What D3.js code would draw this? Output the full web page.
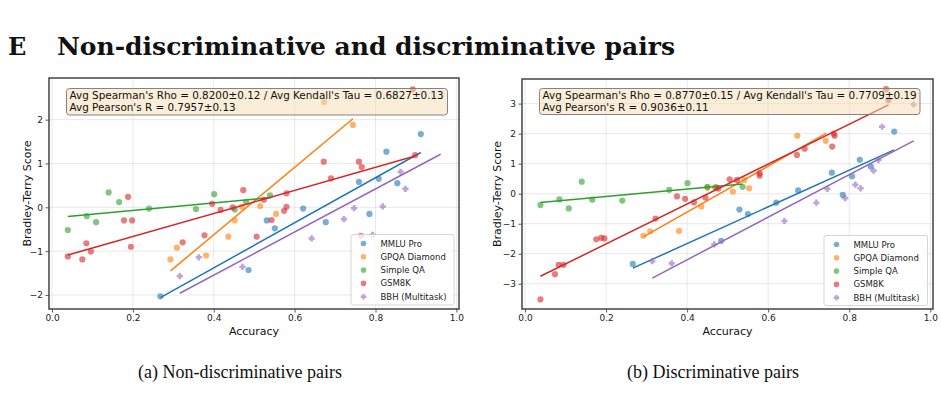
<!DOCTYPE html>
<html>
<head>
<meta charset="utf-8">
<script src="https://cdn.jsdelivr.net/npm/d3@7"></script>
<style>
  body { margin: 0; background: #fff; }
  svg { display: block; }
</style>
</head>
<body>
<div id="chart"></div>
<script>
// series names, shared by both panels
var seriesNames = ["MMLU Pro", "GPQA Diamond", "Simple QA", "GSM8K", "BBH (Multitask)"];

// (a) non-discriminative pairs: [accuracy, bradley-terry score]
var nonDiscMMLU = [[0.268,-2.03],[0.486,-1.43],[0.531,-0.30],[0.551,-0.48],[0.621,-0.03],[0.677,-0.34],[0.759,0.58],[0.785,-0.15],[0.808,0.65],[0.827,1.27],[0.854,0.55],[0.912,1.67]];
var nonDiscGPQA = [[0.293,-1.19],[0.309,-0.92],[0.381,-1.10],[0.436,-0.67],[0.452,-0.30],[0.469,0.01],[0.515,0.03],[0.554,-0.15],[0.673,2.40],[0.744,1.88]];
var nonDiscSimpleQA = [[0.039,-0.52],[0.086,-0.20],[0.109,-0.34],[0.140,0.34],[0.166,0.12],[0.240,-0.03],[0.356,-0.04],[0.401,0.30],[0.452,-0.05],[0.480,0.12],[0.539,0.27]];
var nonDiscGSM8K = [[0.039,-1.12],[0.075,-1.19],[0.085,-0.82],[0.096,-1.01],[0.178,-0.30],[0.188,0.24],[0.198,-0.30],[0.195,-0.90],[0.323,-0.80],[0.377,-0.64],[0.396,0.08],[0.417,-0.06],[0.447,0.00],[0.473,0.39],[0.506,-0.67],[0.524,0.17],[0.543,-0.29],[0.574,-0.08],[0.580,0.01],[0.580,0.32],[0.672,1.04],[0.690,0.66],[0.759,1.04],[0.766,0.92],[0.764,-0.65],[0.898,1.19],[0.892,2.69]];
var nonDiscBBH = [[0.316,-1.57],[0.363,-1.14],[0.471,-1.36],[0.642,-0.71],[0.722,-0.27],[0.747,-0.02],[0.793,-0.63],[0.818,0.02],[0.862,0.81],[0.874,0.42]];
// fitted lines [x0, y0, x1, y1]
var nonDiscFits = [[0.268,-2.06,0.912,1.25],[0.293,-1.45,0.744,2.02],[0.039,-0.21,0.539,0.22],[0.039,-1.09,0.898,1.17],[0.316,-1.96,0.961,1.21]];
var nonDiscStats = ["Avg Spearman's Rho = 0.8200\u00b10.12 / Avg Kendall's Tau = 0.6827\u00b10.13", "Avg Pearson's R = 0.7957\u00b10.13"];

// (b) discriminative pairs
var discMMLU = [[0.266,-2.34],[0.484,-1.57],[0.529,-0.53],[0.550,-0.68],[0.620,-0.30],[0.674,0.11],[0.757,0.70],[0.784,-0.04],[0.807,0.58],[0.826,1.13],[0.853,0.91],[0.911,2.07]];
var discGPQA = [[0.292,-1.40],[0.309,-1.25],[0.380,-1.24],[0.435,-0.43],[0.450,0.20],[0.469,0.21],[0.513,0.07],[0.541,0.46],[0.553,0.18],[0.672,1.93],[0.742,1.76]];
var discSimpleQA = [[0.038,-0.38],[0.085,-0.19],[0.108,-0.49],[0.140,0.40],[0.166,-0.20],[0.240,-0.23],[0.356,0.13],[0.401,0.35],[0.450,0.23],[0.472,0.21],[0.537,0.23]];
var discGSM8K = [[0.038,-3.52],[0.074,-2.68],[0.083,-2.37],[0.095,-2.37],[0.176,-1.52],[0.188,-1.47],[0.196,-1.49],[0.322,-0.83],[0.375,-0.09],[0.395,-0.17],[0.417,-0.29],[0.445,-0.13],[0.477,0.17],[0.505,0.48],[0.523,0.46],[0.579,0.68],[0.579,0.60],[0.671,1.29],[0.690,1.50],[0.758,1.57],[0.764,1.93],[0.762,2.00],[0.897,3.12],[0.891,3.48]];
var discBBH = [[0.314,-2.25],[0.362,-2.32],[0.467,-1.69],[0.640,-0.91],[0.719,-0.30],[0.746,0.16],[0.790,-0.15],[0.815,0.30],[0.828,0.18],[0.860,0.77],[0.872,1.12],[0.881,2.23],[0.959,2.97]];
var discFits = [[0.266,-2.48,0.911,1.46],[0.293,-1.43,0.743,2.01],[0.038,-0.29,0.537,0.32],[0.038,-2.75,0.897,2.96],[0.314,-2.81,0.959,1.76]];
var discStats = ["Avg Spearman's Rho = 0.8770\u00b10.15 / Avg Kendall's Tau = 0.7709\u00b10.19", "Avg Pearson's R = 0.9036\u00b10.11"];

var xTicks = [0, 0.2, 0.4, 0.6, 0.8, 1.0];
var nonDiscYTicks = [-2, -1, 0, 1, 2];
var discYTicks = [-3, -2, -1, 0, 1, 2, 3];

var colors = ["#1f77b4", "#ff7f0e", "#2ca02c", "#d62728", "#9467bd"];
var sans = "'DejaVu Sans', sans-serif";

var svg = d3.select("#chart").append("svg")
    .attr("width", 941)
    .attr("height", 408);

// section title
svg.append("text")
    .attr("x", 8).attr("y", 55)
    .attr("font-family", "'DejaVu Serif', serif")
    .attr("font-weight", "bold")
    .attr("font-size", 24)
    .attr("fill", "#111")
    .text("E");
svg.append("text")
    .attr("x", 57).attr("y", 55)
    .attr("font-family", "'DejaVu Serif', serif")
    .attr("font-weight", "bold")
    .attr("font-size", 24)
    .attr("fill", "#111")
    .attr("textLength", 618)
    .attr("lengthAdjust", "spacingAndGlyphs")
    .text("Non-discriminative and discriminative pairs");

var panels = [
    {
        series: [nonDiscMMLU, nonDiscGPQA, nonDiscSimpleQA, nonDiscGSM8K, nonDiscBBH],
        fits: nonDiscFits, stats: nonDiscStats, yTicks: nonDiscYTicks,
        xRange: [49, 459], yRange: [309, 78],
        xDomain: [-0.0075, 1.0065], yDomain: [-2.32, 2.95],
        box: [66.5, 88.5, 381, 26.5],
        legend: [351, 234.5, 103, 70.5],
        ylabelX: 31,
        caption: "(a) Non-discriminative pairs", captionX: 240
    },
    {
        series: [discMMLU, discGPQA, discSimpleQA, discGSM8K, discBBH],
        fits: discFits, stats: discStats, yTicks: discYTicks,
        xRange: [522, 933], yRange: [309, 79],
        xDomain: [-0.0074, 1.0067], yDomain: [-3.84, 3.82],
        box: [539.5, 88.5, 380.5, 26],
        legend: [824, 235.5, 103.5, 70],
        ylabelX: 501,
        caption: "(b) Discriminative pairs", captionX: 713
    }
];

// filled plus, like matplotlib's "P"
function plusPath(a, w) {
    return "M" + (-w) + "," + (-a) + "H" + w + "V" + (-w) + "H" + a + "V" + w + "H" + w +
        "V" + a + "H" + (-w) + "V" + w + "H" + (-a) + "V" + (-w) + "H" + (-w) + "Z";
}

function marker(sel, i, x, y, r) {
    if (i === 4) {
        sel.append("path")
            .attr("d", plusPath(r, r * 0.42))
            .attr("transform", "translate(" + x + "," + y + ")")
            .attr("fill", colors[i])
            .attr("fill-opacity", 0.6);
    } else {
        sel.append("circle")
            .attr("cx", x).attr("cy", y)
            .attr("r", r)
            .attr("fill", colors[i])
            .attr("fill-opacity", 0.6);
    }
}

panels.forEach(function(p, k) {
    var x = d3.scaleLinear().domain(p.xDomain).range(p.xRange);
    var y = d3.scaleLinear().domain(p.yDomain).range(p.yRange);
    var g = svg.append("g");

    var clipId = "clip" + k;
    svg.append("clipPath").attr("id", clipId)
        .append("rect")
        .attr("x", p.xRange[0]).attr("y", p.yRange[1])
        .attr("width", p.xRange[1] - p.xRange[0])
        .attr("height", p.yRange[0] - p.yRange[1]);

    // grid
    g.selectAll(".gx").data(xTicks).enter().append("line")
        .attr("x1", function(d) { return x(d); })
        .attr("x2", function(d) { return x(d); })
        .attr("y1", p.yRange[0]).attr("y2", p.yRange[1])
        .attr("stroke", "#b0b0b0").attr("stroke-opacity", 0.35).attr("stroke-width", 0.8);
    g.selectAll(".gy").data(p.yTicks).enter().append("line")
        .attr("x1", p.xRange[0]).attr("x2", p.xRange[1])
        .attr("y1", function(d) { return y(d); })
        .attr("y2", function(d) { return y(d); })
        .attr("stroke", "#b0b0b0").attr("stroke-opacity", 0.35).attr("stroke-width", 0.8);

    // points and fitted lines
    var plot = g.append("g").attr("clip-path", "url(#" + clipId + ")");
    p.series.forEach(function(pts, i) {
        pts.forEach(function(d) { marker(plot, i, x(d[0]), y(d[1]), 3.1); });
        var f = p.fits[i];
        plot.append("line")
            .attr("x1", x(f[0])).attr("y1", y(f[1]))
            .attr("x2", x(f[2])).attr("y2", y(f[3]))
            .attr("stroke", colors[i])
            .attr("stroke-width", 1.5);
    });

    // axes
    var xAxis = g.append("g")
        .attr("transform", "translate(0," + p.yRange[0] + ")")
        .call(d3.axisBottom(x).tickValues(xTicks).tickFormat(d3.format(".1f")).tickSize(3.5).tickPadding(2.5));
    var yAxis = g.append("g")
        .attr("transform", "translate(" + p.xRange[0] + ",0)")
        .call(d3.axisLeft(y).tickValues(p.yTicks).tickFormat(d3.format("d")).tickSize(3.5).tickPadding(2.5));
    [xAxis, yAxis].forEach(function(a) {
        a.select(".domain").remove();
        a.selectAll(".tick line").attr("stroke", "#333").attr("stroke-width", 0.8);
        a.selectAll(".tick text").attr("font-family", sans).attr("font-size", 9).attr("fill", "#222");
    });

    // frame
    g.append("rect")
        .attr("x", p.xRange[0]).attr("y", p.yRange[1])
        .attr("width", p.xRange[1] - p.xRange[0])
        .attr("height", p.yRange[0] - p.yRange[1])
        .attr("fill", "none")
        .attr("stroke", "#444")
        .attr("stroke-width", 1.5);

    // axis labels
    g.append("text")
        .attr("x", (p.xRange[0] + p.xRange[1]) / 2).attr("y", 335)
        .attr("text-anchor", "middle")
        .attr("font-family", sans).attr("font-size", 11).attr("fill", "#111")
        .text("Accuracy");
    g.append("text")
        .attr("transform", "translate(" + p.ylabelX + "," + (p.yRange[0] + p.yRange[1]) / 2 + ") rotate(-90)")
        .attr("text-anchor", "middle")
        .attr("font-family", sans).attr("font-size", 11).attr("fill", "#111")
        .text("Bradley-Terry Score");

    // stats box
    g.append("rect")
        .attr("x", p.box[0]).attr("y", p.box[1])
        .attr("width", p.box[2]).attr("height", p.box[3])
        .attr("rx", 3)
        .attr("fill", "#f5deb3").attr("fill-opacity", 0.5)
        .attr("stroke", "#777").attr("stroke-width", 0.9);
    p.stats.forEach(function(s, j) {
        g.append("text")
            .attr("x", p.box[0] + 3).attr("y", p.box[1] + 10.5 + j * 12)
            .attr("font-family", sans).attr("font-size", 10.4).attr("fill", "#111")
            .text(s);
    });

    // legend
    var L = p.legend;
    g.append("rect")
        .attr("x", L[0]).attr("y", L[1]).attr("width", L[2]).attr("height", L[3])
        .attr("rx", 2)
        .attr("fill", "#fff").attr("fill-opacity", 0.8)
        .attr("stroke", "#ccc").attr("stroke-width", 0.8);
    seriesNames.forEach(function(name, i) {
        var cy = L[1] + 9 + i * 13.3;
        marker(g, i, L[0] + 12.5, cy, 2.8);
        g.append("text")
            .attr("x", L[0] + 29.5).attr("y", cy + 3)
            .attr("font-family", sans).attr("font-size", 8.5).attr("fill", "#222")
            .text(name);
    });

    // caption
    svg.append("text")
        .attr("x", p.captionX).attr("y", 378)
        .attr("text-anchor", "middle")
        .attr("font-family", "'Liberation Serif', serif")
        .attr("font-size", 18).attr("fill", "#111")
        .text(p.caption);
});
</script>
</body>
</html>
